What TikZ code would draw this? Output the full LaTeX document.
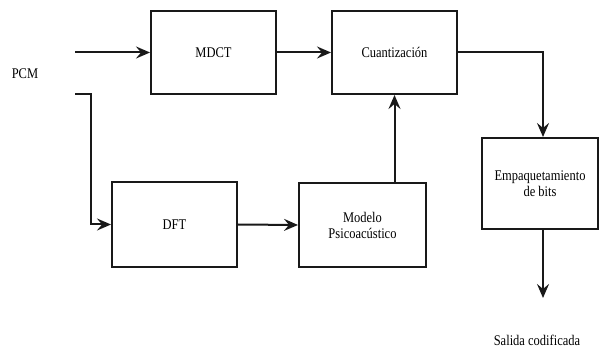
\documentclass[tikz,border=0pt]{standalone}
\usepackage{fontspec}
\usepackage{graphicx}
\setmainfont{Liberation Serif}
\usetikzlibrary{arrows.meta}
\newcommand\tallt[1]{\scalebox{1}[1.18]{#1}}
\begin{document}
\begin{tikzpicture}[x=1pt,y=-1pt,
  blk/.style={draw=black!90, line width=2pt, minimum width=#1, inner sep=0pt, align=center,
    font=\rmfamily\fontsize{12.5}{16}\selectfont},
  lbl/.style={font=\rmfamily\fontsize{12.5}{16}\selectfont, inner sep=0pt},
  conn/.style={draw=black!90, line width=2pt, -{Stealth[length=14pt,width=12pt,inset=5pt]}}]
\useasboundingbox (0,0) rectangle (599,347);
\node[blk=125pt, minimum height=83pt] (mdct) at (213.5,52.5) {\tallt{MDCT}};
\node[blk=125pt, minimum height=83pt] (cuant) at (394.5,52.5) {\tallt{Cuantización}};
\node[blk=116pt, minimum height=91pt] (emp) at (540,183.5) {\tallt{Empaquetamiento}\\\tallt{de bits}};
\node[blk=125pt, minimum height=85pt] (dft) at (174.5,224.5) {\tallt{DFT}};
\node[blk=127pt, minimum height=84pt] (modelo) at (362.5,225) {\tallt{Modelo}\\\tallt{Psicoacústico}};
\node[lbl] (pcm) at (25,74) {\tallt{PCM}};
\node[lbl] (salida) at (537,340) {\tallt{Salida codificada}};
\coordinate (in1) at (75,52.5);
\coordinate (in2) at (75,94);
\coordinate (out) at (543,298);
\draw[conn] (in1) -- (mdct.west);
\draw[conn] (mdct.east) -- (cuant.west);
\draw[conn] (in2) -- ++(16,0) |- (dft.west);
\draw[conn] (dft.east) -- (modelo.west);
\draw[conn] (cuant.south |- modelo.north) -- (cuant.south);
\draw[conn] (cuant.east) -| ([xshift=3pt]emp.north);
\draw[conn] ([xshift=3pt]emp.south) -- (out);
\end{tikzpicture}
\end{document}
